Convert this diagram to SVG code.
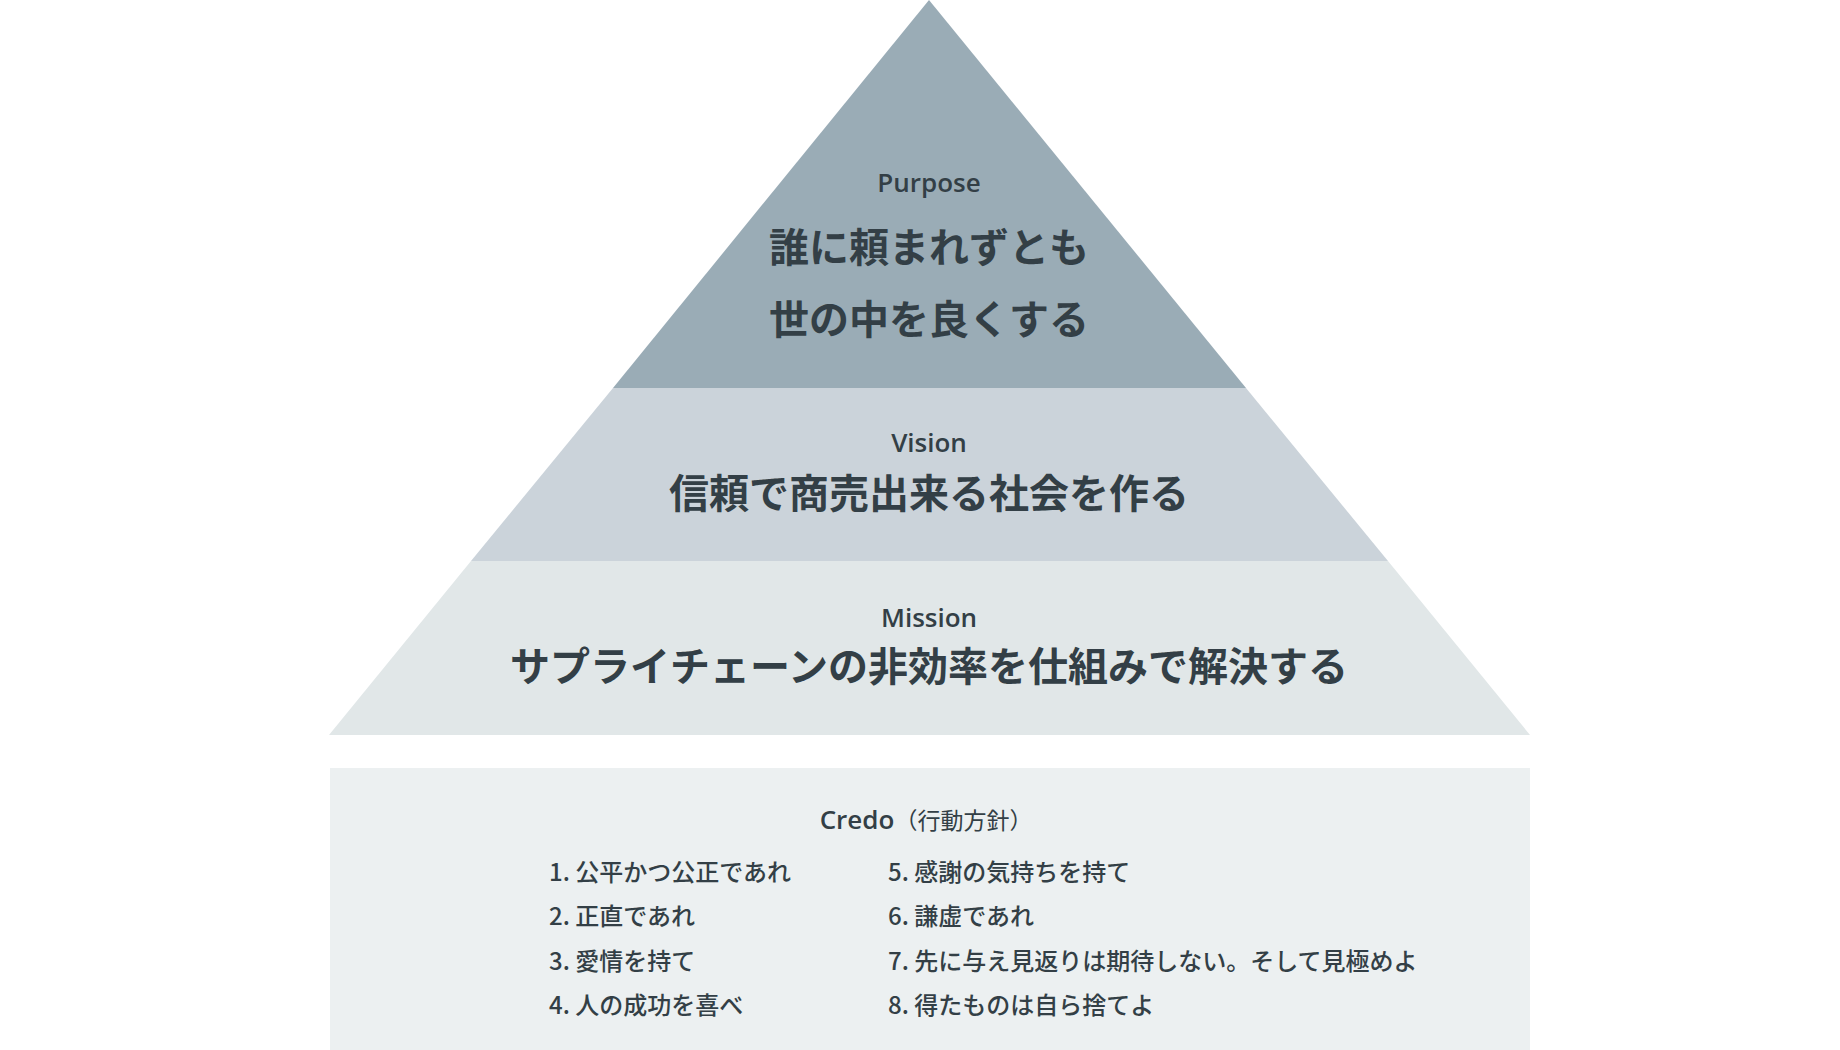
<svg xmlns="http://www.w3.org/2000/svg" width="1840" height="1050" viewBox="0 0 1840 1050">
<style>
.lbl{font-family:"Open Sans","Noto Sans CJK JP",sans-serif;font-size:26px;font-weight:600;fill:#333f46;text-anchor:middle}
.main{font-family:"Noto Sans CJK JP","Noto Sans",sans-serif;font-size:40px;font-weight:700;fill:#333f46;text-anchor:middle}
.item{font-family:"Noto Sans CJK JP","Noto Sans",sans-serif;font-size:24px;font-weight:500;fill:#333f46}
.cr{font-family:"Open Sans","Noto Sans CJK JP",sans-serif;font-size:26px;font-weight:600;fill:#333f46}
.sub{font-family:"Noto Sans CJK JP",sans-serif;font-size:23px;font-weight:400;fill:#333f46}
</style>
<rect width="1840" height="1050" fill="#ffffff"/>
<g id="purpose">
<polygon points="929,0 1246,388 613,388" fill="#9aacb6"/>
<text class="lbl" x="929" y="192">Purpose</text>
<text class="main" x="929" y="262">誰に頼まれずとも</text>
<text class="main" x="929" y="334">世の中を良くする</text>
</g>
<g id="vision">
<polygon points="613,388 1246,388 1388,561 471,561" fill="#cbd3da"/>
<text class="lbl" x="929" y="452">Vision</text>
<text class="main" x="929" y="508">信頼で商売出来る社会を作る</text>
</g>
<g id="mission">
<polygon points="471,561 1388,561 1530,735 329,735" fill="#e1e7e8"/>
<text class="lbl" x="929" y="627">Mission</text>
<text class="main" x="929" y="681">サプライチェーンの非効率を仕組みで解決する</text>
</g>
<g id="connectors"></g>
<g id="credo">
<rect x="330" y="768" width="1200" height="282" fill="#ecf0f1"/>
<text x="926" y="829" text-anchor="middle"><tspan class="cr">Credo</tspan><tspan class="sub">（行動方針）</tspan></text>
<text class="item" x="549" y="881">1. 公平かつ公正であれ</text>
<text class="item" x="549" y="925">2. 正直であれ</text>
<text class="item" x="549" y="970">3. 愛情を持て</text>
<text class="item" x="549" y="1014">4. 人の成功を喜べ</text>
<text class="item" x="888" y="881">5. 感謝の気持ちを持て</text>
<text class="item" x="888" y="925">6. 謙虚であれ</text>
<text class="item" x="888" y="970">7. 先に与え見返りは期待しない。そして見極めよ</text>
<text class="item" x="888" y="1014">8. 得たものは自ら捨てよ</text>
</g>
</svg>
